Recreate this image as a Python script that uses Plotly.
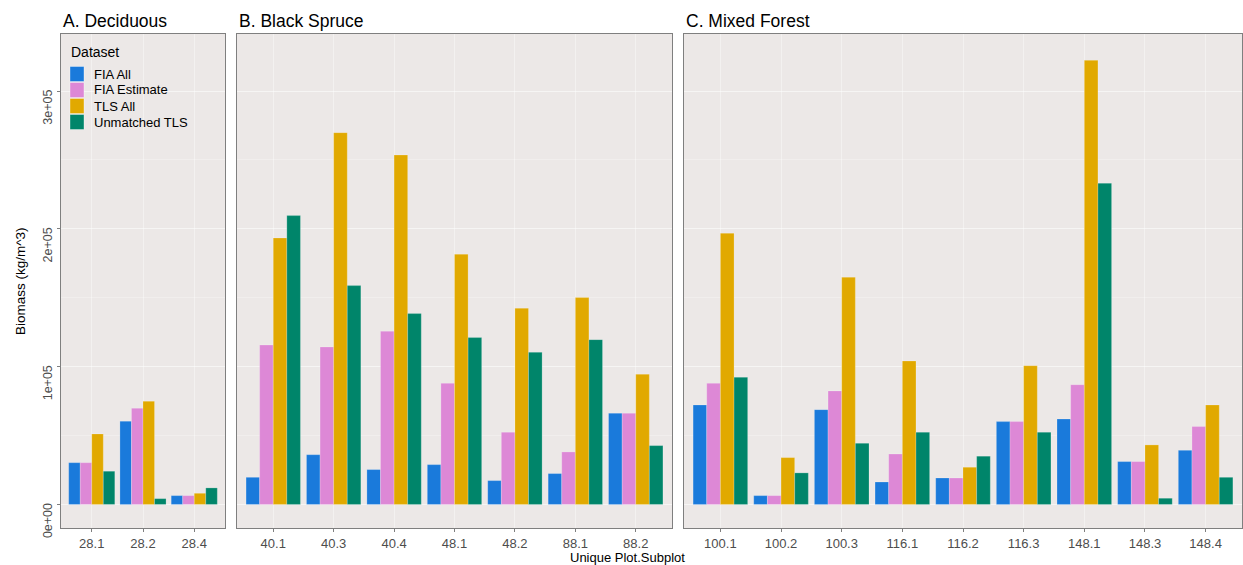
import plotly.graph_objects as go

# ---------------- data ----------------
series_names = ["FIA All", "FIA Estimate", "TLS All", "Unmatched TLS"]
colors = ["#1A7ADB", "#DD88D6", "#E1A900", "#00856A"]

panel_titles = ["A. Deciduous", "B. Black Spruce", "C. Mixed Forest"]

cats_a = ["28.1", "28.2", "28.4"]
cats_b = ["40.1", "40.3", "40.4", "48.1", "48.2", "88.1", "88.2"]
cats_c = ["100.1", "100.2", "100.3", "116.1", "116.2", "116.3", "148.1", "148.3", "148.4"]

# Deciduous
a_fia_all = [30300, 60400, 6400]
a_fia_est = [30300, 69800, 6400]
a_tls_all = [51200, 74900, 8100]
a_unmatched = [24100, 4200, 12000]

# Black Spruce
b_fia_all = [19700, 36100, 25300, 28900, 17300, 22400, 66200]
b_fia_est = [115700, 114300, 125700, 87900, 52400, 38100, 66200]
b_tls_all = [193400, 269800, 253600, 181600, 142400, 150100, 94500]
b_unmatched = [209600, 158800, 138500, 121100, 110400, 119600, 42700]

# Mixed Forest
c_fia_all = [72200, 6400, 68800, 16300, 19200, 60100, 62000, 31100, 39300]
c_fia_est = [87900, 6400, 82400, 36600, 19200, 60100, 86900, 31100, 56500]
c_tls_all = [196800, 34000, 164900, 104100, 27000, 100700, 322300, 43200, 72200]
c_unmatched = [92300, 22900, 44400, 52400, 35000, 52400, 233100, 4500, 19700]

y_tickvals = [0, 100000, 200000, 300000]
y_ticktext = ["0e+00", "1e+05", "2e+05", "3e+05"]

legend_title = "Dataset"

# ---------------- figure ----------------
FONT = "Liberation Sans, Arial, sans-serif"
PANEL_BG = "#ECE8E7"
GRID = "rgba(255,255,255,0.4)"
BORDER = "#7F7F7F"
TICKC = "#4D4D4D"

W, H = 1243, 565
ML, MR, MT, MB = 61, 1, 34, 37
PW, PH = W - ML - MR, H - MT - MB


def px(xp):
    return (xp - ML) / PW


def py(yp):
    return 1 - (yp - MT) / PH


panels = [
    (cats_a, [a_fia_all, a_fia_est, a_tls_all, a_unmatched]),
    (cats_b, [b_fia_all, b_fia_est, b_tls_all, b_unmatched]),
    (cats_c, [c_fia_all, c_fia_est, c_tls_all, c_unmatched]),
]
domains = [[px(61), px(225)], [px(237), px(672)], [px(684), 1.0]]

fig = go.Figure()
for p, (cats, vals) in enumerate(panels):
    xa = "x" if p == 0 else f"x{p+1}"
    ya = "y" if p == 0 else f"y{p+1}"
    for s, name in enumerate(series_names):
        fig.add_trace(go.Bar(
            x=cats, y=vals[s], name=name, legendgroup=name,
            showlegend=False,
            marker=dict(color=colors[s], line=dict(width=0.6, color="rgba(255,255,255,0.35)")),
            xaxis=xa, yaxis=ya,
        ))

shapes = []
annotations = []

layout = dict(
    width=W, height=H,
    margin=dict(l=ML, r=MR, t=MT, b=MB),
    paper_bgcolor="white", plot_bgcolor=PANEL_BG,
    barmode="group", bargap=0.1, bargroupgap=0.0,
    font=dict(family=FONT, size=13, color="black"),
    showlegend=False,
)

for p, (cats, vals) in enumerate(panels):
    xk = "xaxis" if p == 0 else f"xaxis{p+1}"
    yk = "yaxis" if p == 0 else f"yaxis{p+1}"
    ya = "y" if p == 0 else f"y{p+1}"
    xa = "x" if p == 0 else f"x{p+1}"
    layout[xk] = dict(
        domain=domains[p], anchor=ya, type="category",
        range=[-0.6, len(cats) - 0.4],
        showgrid=True, gridcolor=GRID, gridwidth=1,
        showline=True, mirror=True, linecolor=BORDER, linewidth=1.2,
        ticks="outside", ticklen=3, tickcolor=BORDER,
        tickfont=dict(size=13, color=TICKC), fixedrange=True,
    )
    layout[yk] = dict(
        domain=[0, 1], anchor=xa,
        range=[-17100, 341400],
        tickvals=y_tickvals, ticktext=y_ticktext,
        tickangle=-90, tickfont=dict(size=12.5, color=TICKC),
        ticklabelshift=18,
        showticklabels=(p == 0),
        ticks="outside" if p == 0 else "", ticklen=3, tickcolor=BORDER,
        showgrid=True, gridcolor=GRID, gridwidth=1,
        minor=dict(dtick=50000, tick0=0, showgrid=True,
                   gridcolor="rgba(255,255,255,0.28)", gridwidth=0.6),
        zeroline=False,
        showline=True, mirror=True, linecolor=BORDER, linewidth=1.2,
    )
    if p > 0:
        layout[yk]["matches"] = "y"
    annotations.append(dict(
        text=panel_titles[p], xref="paper", yref="paper",
        x=domains[p][0], y=1.0, xanchor="left", yanchor="bottom", yshift=1,
        showarrow=False, font=dict(size=17.5, color="black"),
    ))

annotations.append(dict(
    text="Unique Plot.Subplot", xref="paper", yref="paper",
    x=px(627), y=py(557), xanchor="center", yanchor="middle",
    showarrow=False, font=dict(size=13, color="black"),
))
annotations.append(dict(
    text="Biomass (kg/m^3)", xref="paper", yref="paper",
    x=px(20), y=0.5, xanchor="center", yanchor="middle", textangle=-90,
    showarrow=False, font=dict(size=13.5, color="black"),
))

# legend drawn inside panel A (ggplot-style key)
annotations.append(dict(
    text=legend_title, xref="paper", yref="paper",
    x=px(69), y=py(52), xanchor="left", yanchor="middle",
    showarrow=False, font=dict(size=14, color="black"),
))
row_centers = [74, 90, 106, 122]
for s, name in enumerate(series_names):
    yc = row_centers[s]
    shapes.append(dict(
        type="rect", xref="paper", yref="paper",
        x0=px(70), x1=px(84), y0=py(yc + 7.5), y1=py(yc - 7.5),
        fillcolor=colors[s], line=dict(width=0.6, color="rgba(255,255,255,0.6)"),
        layer="above",
    ))
    annotations.append(dict(
        text=name, xref="paper", yref="paper",
        x=px(92), y=py(yc), xanchor="left", yanchor="middle",
        showarrow=False, font=dict(size=13, color="black"),
    ))

layout["shapes"] = shapes
layout["annotations"] = annotations

fig.update_layout(**layout)
fig.write_html(
    "out.html",
    config={"displayModeBar": False},
    post_script="document.body.style.margin='0';document.body.style.padding='0';",
)
